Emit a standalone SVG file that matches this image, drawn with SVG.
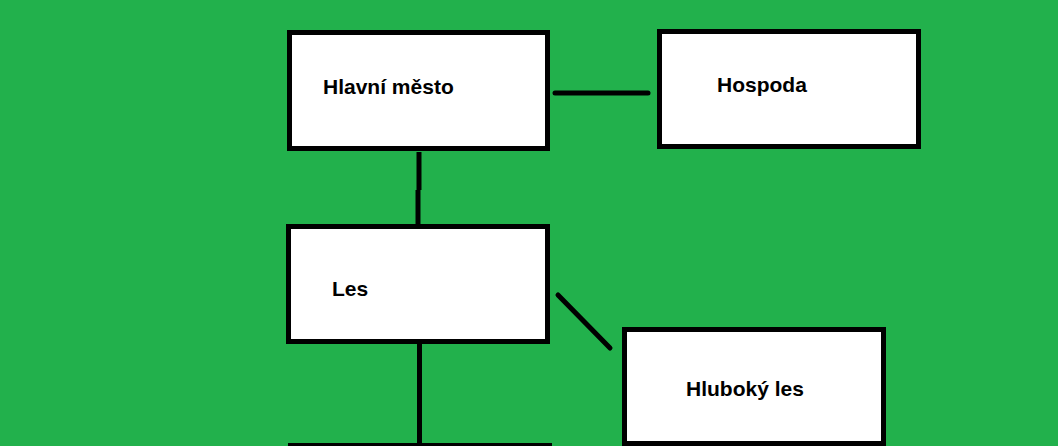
<svg xmlns="http://www.w3.org/2000/svg" width="1058" height="446" viewBox="0 0 1058 446">
<style>
.box{fill:#fff;stroke:#000;stroke-width:5}
.lbl{font-family:"Liberation Sans",Arial,sans-serif;font-size:21px;font-weight:bold;fill:#000}
.con{stroke:#000;stroke-width:5;fill:none;stroke-linecap:round}
</style>
<rect width="1058" height="446" fill="#22b14c"/>
<g id="connectors">
<line class="con" x1="555" y1="93" x2="648" y2="93"/>
<line class="con" x1="419" y1="152" x2="419" y2="190" style="stroke-linecap:butt"/>
<line class="con" x1="418" y1="190" x2="418" y2="226" style="stroke-linecap:butt"/>
<line class="con" x1="558" y1="295" x2="610" y2="348"/>
<line class="con" x1="419.5" y1="344" x2="419.5" y2="446" style="stroke-linecap:butt"/>
</g>
<g id="hlavni-mesto">
<rect class="box" x="289.5" y="32.5" width="258" height="116"/>
<text class="lbl" x="323" y="94">Hlavní město</text>
</g>
<g id="hospoda">
<rect class="box" x="659.5" y="31.5" width="259" height="115"/>
<text class="lbl" x="717" y="92">Hospoda</text>
</g>
<g id="les">
<rect class="box" x="288.5" y="226.5" width="259" height="115"/>
<text class="lbl" x="332" y="296">Les</text>
</g>
<g id="hluboky-les">
<rect class="box" x="624.5" y="329.5" width="259" height="114"/>
<text class="lbl" x="686" y="396">Hluboký les</text>
</g>
<g id="next">
<rect class="box" x="290.5" y="445.5" width="259" height="60"/>
</g>
</svg>
